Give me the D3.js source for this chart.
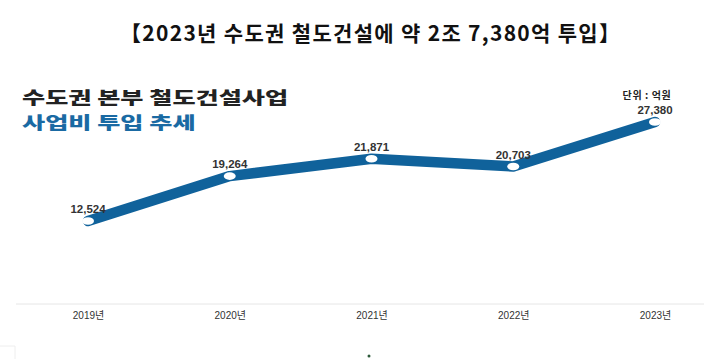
<!DOCTYPE html>
<html>
<head>
<meta charset="utf-8">
<script src="https://cdn.jsdelivr.net/npm/d3@7"></script>
<style>
  body { margin: 0; background: #fff; }
  svg { display: block; font-family: "Noto Sans CJK KR", "Noto Sans", sans-serif; }
</style>
</head>
<body>
<svg id="chart"></svg>
<script>
// data
var years = ["2019년", "2020년", "2021년", "2022년", "2023년"];
var budget = [12524, 19264, 21871, 20703, 27380];
var budgetLabels = ["12,524", "19,264", "21,871", "20,703", "27,380"];

var screen = {width: 720, height: 359};
var lineColor = "#10629b";

var svg = d3.select("#chart")
    .attr("width", screen.width)
    .attr("height", screen.height);

var xScale = d3.scalePoint()
    .domain(years)
    .range([88, 655]);

var yScale = d3.scaleLinear()
    .domain([0, 27380])
    .range([304.5, 122]);

var points = years.map(function(y, i) {
    return {year: y, value: budget[i], label: budgetLabels[i]};
});

// title
svg.append("text")
    .text("【2023년 수도권 철도건설에 약 2조 7,380억 투입】")
    .attr("x", 120)
    .attr("y", 41)
    .attr("textLength", 500)
    .attr("lengthAdjust", "spacing")
    .attr("font-size", 21)
    .attr("font-weight", 700)
    .attr("fill", "#111");

// heading, glyphs stretched sideways like the original
var head = svg.append("text")
    .attr("transform", "translate(22,0) scale(1.48,1)")
    .attr("font-size", 17)
    .attr("font-weight", 900);

head.append("tspan")
    .text("수도권 본부 철도건설사업")
    .attr("x", 0)
    .attr("y", 104.5)
    .attr("fill", "#222");

head.append("tspan")
    .text("사업비 투입 추세")
    .attr("x", 0)
    .attr("y", 129)
    .attr("fill", "#1a6aa3");

svg.append("text")
    .text("단위 : 억원")
    .attr("x", 647)
    .attr("y", 99)
    .attr("text-anchor", "middle")
    .attr("font-size", 10)
    .attr("font-weight", 700)
    .attr("letter-spacing", 0.6)
    .attr("fill", "#222");

// x axis
var xAxis = d3.axisBottom(xScale).tickSize(0).tickPadding(8);
var axisG = svg.append("g")
    .attr("transform", "translate(0,304)")
    .call(xAxis);
axisG.select(".domain").remove();
axisG.append("line")
    .attr("x1", 16).attr("x2", 704)
    .attr("y1", 0).attr("y2", 0)
    .attr("stroke", "#e6e6e6")
    .attr("stroke-width", 1);
axisG.selectAll(".tick text")
    .attr("font-size", 10)
    .attr("font-family", "'Liberation Sans', 'Noto Sans CJK KR', sans-serif")
    .attr("fill", "#333");

// line
var line = d3.line()
    .x(function(d) { return xScale(d.year); })
    .y(function(d) { return yScale(d.value); });

svg.append("path")
    .datum(points)
    .attr("d", line)
    .attr("fill", "none")
    .attr("stroke", lineColor)
    .attr("stroke-width", 10.5)
    .attr("stroke-linecap", "round")
    .attr("stroke-linejoin", "round");

svg.selectAll("ellipse.pt")
    .data(points)
    .enter()
    .append("ellipse")
    .attr("class", "pt")
    .attr("cx", function(d) { return xScale(d.year); })
    .attr("cy", function(d) { return yScale(d.value); })
    .attr("rx", 6)
    .attr("ry", 3.8)
    .attr("fill", "#fff");

svg.selectAll("text.val")
    .data(points)
    .enter()
    .append("text")
    .attr("class", "val")
    .text(function(d) { return d.label; })
    .attr("x", function(d) { return xScale(d.year); })
    .attr("y", function(d) { return yScale(d.value) - 8; })
    .attr("text-anchor", "middle")
    .attr("font-size", 11.5)
    .attr("font-family", "'Liberation Sans', Arial, sans-serif")
    .attr("font-weight", 700)
    .attr("fill", "#333");

// faint edge of a box at the bottom left and a small dot at the bottom
svg.append("path")
    .attr("d", "M0,346H15V359")
    .attr("fill", "none")
    .attr("stroke", "#eee");
svg.append("circle")
    .attr("cx", 369).attr("cy", 356).attr("r", 1.5)
    .attr("fill", "#2d5a3a");
</script>
</body>
</html>
